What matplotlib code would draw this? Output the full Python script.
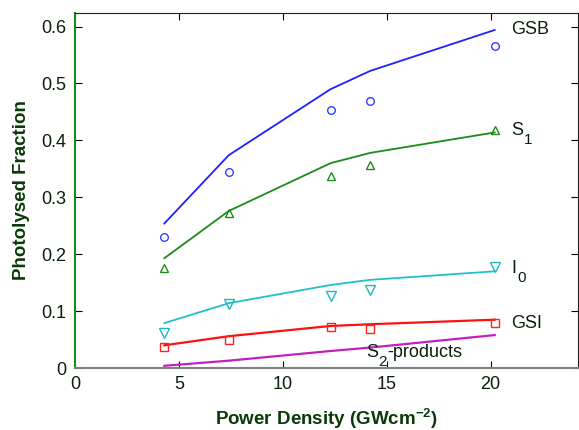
import matplotlib
matplotlib.use("Agg")
import matplotlib.pyplot as plt

plt.rcParams['font.family'] = ['Liberation Sans', 'DejaVu Sans']
plt.rcParams['mathtext.fontset'] = 'custom'
plt.rcParams['mathtext.rm'] = 'Liberation Sans'
plt.rcParams['mathtext.bf'] = 'Liberation Sans:bold'

# Power density (GW cm^-2)
power = [4.3, 7.4, 12.3, 14.2, 20.2]

# measured points
gsb_pts = [0.230, 0.344, 0.453, 0.470, 0.566]
s1_pts = [0.176, 0.273, 0.338, 0.357, 0.418]
i0_pts = [0.062, 0.112, 0.127, 0.137, 0.178]
gsi_pts = [0.037, 0.049, 0.072, 0.068, 0.079]

# model curves
gsb_fit = [0.254, 0.374, 0.490, 0.522, 0.594]
s1_fit = [0.193, 0.276, 0.360, 0.378, 0.414]
i0_fit = [0.079, 0.114, 0.146, 0.155, 0.170]
gsi_fit = [0.040, 0.056, 0.074, 0.077, 0.085]
s2_fit = [0.004, 0.013, 0.030, 0.036, 0.058]

fig = plt.figure(figsize=(5.79, 4.30), dpi=100)
ax = fig.add_axes([0.1295, 0.144, 0.8685, 0.826])

ax.plot(power, gsb_fit, color='#2020ff', lw=1.3)
ax.plot(power, gsb_pts, 'o', mfc='none', mec='#3040ff', ms=5.5, mew=1)
ax.plot(power, s1_fit, color='#1a8c1a', lw=1.3)
ax.plot(power, s1_pts, '^', mfc='none', mec='#1a8c1a', ms=5.5, mew=1)
ax.plot(power, i0_fit, color='#20c0c8', lw=1.3)
ax.plot(power, i0_pts, 'v', mfc='none', mec='#20b8c0', ms=6.5, mew=1)
ax.plot(power, gsi_fit, color='#ff1010', lw=1.6)
ax.plot(power, gsi_pts, 's', mfc='none', mec='#ff2020', ms=5.5, mew=1)
ax.plot(power, s2_fit, color='#c020c0', lw=1.6)

tc = '#0a1f0a'
ax.text(21.0, 0.594, 'GSB', fontsize=13, color=tc, va='center')
ax.text(21.0, 0.418, 'S', fontsize=13, color=tc, va='center')
ax.annotate('1', (21.0, 0.418), xytext=(9, -7), textcoords='offset points',
            fontsize=11, color=tc, va='center')
ax.text(21.0, 0.175, 'I', fontsize=13, color=tc, va='center')
ax.annotate('0', (21.0, 0.175), xytext=(4, -7), textcoords='offset points',
            fontsize=11, color=tc, va='center')
ax.text(21.0, 0.078, 'GSI', fontsize=13, color=tc, va='center')
ax.text(14.0, 0.028, 'S', fontsize=13, color=tc, va='center')
ax.annotate('2', (14.0, 0.028), xytext=(9, -7), textcoords='offset points',
            fontsize=11, color=tc, va='center')
ax.annotate('-products', (14.0, 0.028), xytext=(15.5, 0), textcoords='offset points',
            fontsize=13, color=tc, va='center')

ax.set_xlim(0, 24.2)
ax.set_ylim(0, 0.624)
ax.set_xticks([0, 5, 10, 15, 20])
ax.set_xticklabels(['0', '5', '10', '15', '20'])
ax.set_yticks([0, 0.1, 0.2, 0.3, 0.4, 0.5, 0.6])
ax.set_yticklabels(['0', '0.1', '0.2', '0.3', '0.4', '0.5', '0.6'])
ax.tick_params(direction='in', top=True, right=True, labelsize=13,
               labelcolor=tc, length=5, pad=6)

ax.spines['left'].set_color('#1a8c1a')
ax.spines['bottom'].set_color('#808080')
ax.spines['bottom'].set_linewidth(1.5)
ax.spines['left'].set_linewidth(1.5)
ax.spines['top'].set_color('#202020')
ax.spines['right'].set_color('#202020')

ax.set_xlabel(r'Power Density (GWcm$^{\mathbf{-2}}$)', fontsize=13.5,
              fontweight='bold', color='#0a3a0a', labelpad=9)
ax.set_ylabel('Photolysed Fraction', fontsize=13.5, fontweight='bold',
              color='#0a3a0a', labelpad=8)

fig.savefig('out.png', dpi=100)
